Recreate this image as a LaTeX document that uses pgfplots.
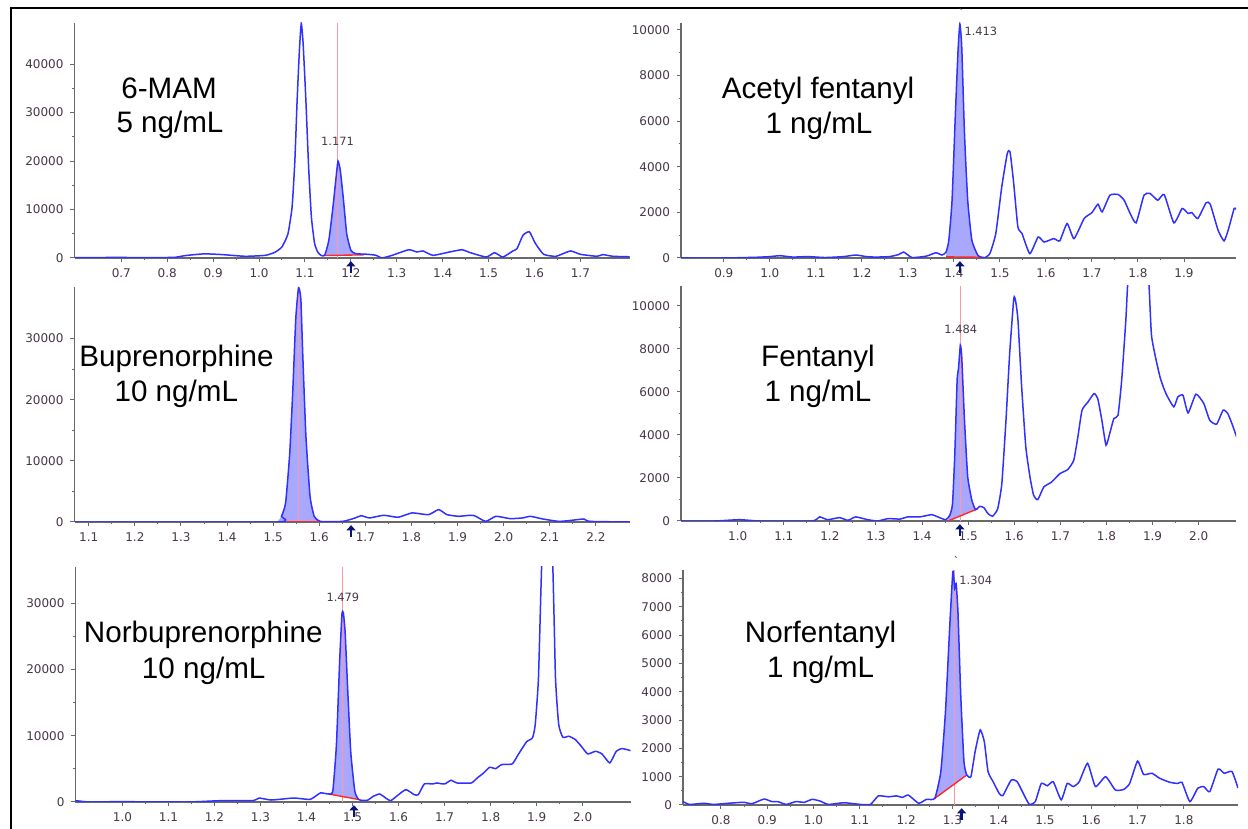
\documentclass[border=0pt]{standalone}
\usepackage{pgfplots}
\pgfplotsset{compat=1.18}
\usepackage{fontspec}
\setmainfont{Liberation Sans}
\newfontfamily\tickfont{DejaVu Sans}
\usetikzlibrary{arrows.meta}

\definecolor{tracecol}{RGB}{48,48,255}
\definecolor{fillcol}{RGB}{168,168,255}
\definecolor{axisgray}{RGB}{105,105,105}
\definecolor{ticktext}{RGB}{70,55,70}
\definecolor{rtcol}{RGB}{255,150,165}
\definecolor{intbase}{RGB}{255,40,40}
\definecolor{arrowcol}{RGB}{10,20,120}

\pgfplotsset{
  chrom/.style={
    scale only axis, width=277.5pt, height=117.5pt,
    anchor=south west,
    axis x line=bottom, axis y line=left,
    axis line style={-, draw=axisgray, line width=0.7pt},
    tick align=outside,
    major tick length=2pt, minor tick length=1.2pt,
    tick style={draw=axisgray, line width=0.5pt},
    minor x tick num=1, minor y tick num=1,
    ymin=0,
    tick label style={font=\tickfont\fontsize{6}{7}\selectfont, text=ticktext},
    x tick label style={/pgf/number format/.cd, fixed, fixed zerofill, precision=1, assume math mode=true},
    y tick label style={/pgf/number format/.cd, fixed, set thousands separator={}, assume math mode=true},
    scaled x ticks=false, scaled y ticks=false,
    clip mode=individual,
  },
  trace/.style={draw=tracecol, line width=0.75pt, no markers, smooth, tension=0.3},
  peakfill/.style={draw=none, fill=fillcol},
  rt/.style={draw=rtcol, line width=0.5pt, no markers},
  intline/.style={draw=intbase, line width=0.7pt, no markers},
}
\newcommand{\rtarrow}[1]{\draw[arrowcol, line width=1.2pt, -{Triangle[width=4.5pt,length=2.6pt]}] ([yshift=-7.5pt]axis cs:#1,0) -- ([yshift=-1.6pt]axis cs:#1,0);}
\newcommand{\rtlabel}{\tickfont\fontsize{5.7}{7}\selectfont\color{ticktext}}
\newcommand{\namefont}{\fontsize{14.8}{17}\selectfont}

\begin{document}
\begin{tikzpicture}
\useasboundingbox (0pt,0pt) rectangle (624pt,414.5pt);
\draw[line width=1pt] (5.5pt,0pt) -- (5.5pt,410.25pt) -- (624pt,410.25pt);

% 6-MAM
\begin{axis}[chrom, at={(37.25pt,285.5pt)}, xmin=0.598, xmax=1.807, ymax=48500,
  xtick={0.7,0.8,0.9,1.0,1.1,1.2,1.3,1.4,1.5,1.6,1.7}, ytick={0,10000,20000,30000,40000}]
\addplot[peakfill] coordinates {(1.139,550)(1.143,550)(1.152,3650)(1.161,10500)(1.168,16800)(1.172,20000)(1.177,18100)(1.184,11900)(1.191,5000)(1.2,1600)(1.21,900)(1.228,700)} -- cycle;
\addplot[rt] coordinates {(1.171,0)(1.171,48500)};
\addplot[intline] coordinates {(1.139,500)(1.228,650)};
\addplot[trace] coordinates {
(0.598,100)(0.65,80)(0.70,150)(0.72,80)(0.80,100)(0.818,150)(0.84,500)(0.88,850)(0.92,700)(0.97,350)(1.014,550)(1.035,1200)(1.05,2300)(1.063,5000)(1.072,10500)(1.078,20000)(1.083,32600)(1.088,43000)(1.092,48400)(1.096,44300)(1.102,32600)(1.108,18800)(1.114,8500)(1.121,3000)(1.128,1200)(1.135,550)(1.143,550)(1.152,3650)(1.161,10500)(1.168,16800)(1.172,20000)(1.177,18100)(1.184,11900)(1.191,5000)(1.2,1600)(1.21,900)(1.237,760)(1.255,550)(1.268,0)(1.29,550)(1.326,1700)(1.344,1240)(1.357,1450)(1.379,550)(1.415,1240)(1.442,1700)(1.46,1100)(1.495,200)(1.513,1100)(1.531,200)(1.553,1450)(1.562,1930)(1.575,4700)(1.589,5400)(1.602,3000)(1.62,760)(1.647,350)(1.678,1450)(1.7,760)(1.736,350)(1.749,700)(1.771,350)(1.807,250)};
\node[font=\rtlabel] at (axis cs:1.171,24000) {1.171};
\rtarrow{1.2}
\end{axis}
\node[anchor=base, font=\namefont] at (84.5pt,365pt) {6-MAM};
\node[anchor=base, font=\namefont] at (85pt,348pt) {5 ng/mL};

% Acetyl fentanyl
\begin{axis}[chrom, at={(340.5pt,285.5pt)}, xmin=0.807, xmax=2.013, ymax=10300,
  xtick={0.9,1.0,1.1,1.2,1.3,1.4,1.5,1.6,1.7,1.8,1.9}, ytick={0,2000,4000,6000,8000,10000}]
\addplot[peakfill] coordinates {(1.383,60)(1.383,260)(1.389,780)(1.396,2530)(1.403,6200)(1.409,9100)(1.413,10250)(1.417,9270)(1.423,5460)(1.43,2530)(1.439,780)(1.452,120)(1.465,40)} -- cycle;
\addplot[intline] coordinates {(1.383,50)(1.465,30)};
\addplot[trace] coordinates {
(0.807,0)(0.9,0)(0.97,30)(1.0,60)(1.022,100)(1.05,40)(1.083,60)(1.12,20)(1.16,60)(1.187,130)(1.21,60)(1.23,40)(1.26,60)(1.28,150)(1.291,260)(1.309,20)(1.34,80)(1.361,230)(1.374,130)(1.383,260)(1.389,780)(1.396,2530)(1.403,6200)(1.409,9100)(1.413,10250)(1.417,9270)(1.423,5460)(1.43,2530)(1.439,780)(1.452,120)(1.465,0)(1.478,190)(1.491,1070)(1.504,3120)(1.516,4580)(1.522,4650)(1.53,3260)(1.539,1360)(1.548,1070)(1.565,190)(1.583,920)(1.596,700)(1.617,850)(1.63,750)(1.646,1510)(1.661,850)(1.683,1730)(1.7,1990)(1.713,2360)(1.722,2020)(1.739,2750)(1.757,2780)(1.77,2530)(1.783,1950)(1.796,1540)(1.813,2750)(1.826,2830)(1.843,2530)(1.857,2780)(1.878,1540)(1.896,2170)(1.909,1950)(1.917,1990)(1.93,1730)(1.948,2420)(1.957,2360)(1.974,1220)(1.987,750)(1.996,1220)(2.009,2170)(2.013,2130)};
\node[font=\rtlabel, anchor=west, inner sep=1pt] at (axis cs:1.418,9930) {1.413};
\node[font=\rtlabel, inner sep=0pt] at (axis cs:1.416,10750) {`};
\rtarrow{1.413}
\end{axis}
\node[anchor=base, font=\namefont] at (409pt,365pt) {Acetyl fentanyl};
\node[anchor=base, font=\namefont] at (409.5pt,347.85pt) {1 ng/mL};

% Buprenorphine
\begin{axis}[chrom, at={(37.25pt,153.5pt)}, xmin=1.069, xmax=2.273, ymax=38420,
  xtick={1.1,1.2,1.3,1.4,1.5,1.6,1.7,1.8,1.9,2.0,2.1,2.2}, ytick={0,10000,20000,30000}]
\addplot[peakfill] coordinates {(1.509,0)(1.518,930)(1.527,3120)(1.536,11330)(1.543,22280)(1.549,33230)(1.555,38300)(1.56,36500)(1.564,27750)(1.571,14070)(1.58,4210)(1.589,930)(1.602,100)(1.602,0)} -- cycle;
\addplot[rt] coordinates {(1.556,0)(1.556,38420)};
\addplot[intline] coordinates {(1.509,0)(1.602,0)};
\addplot[trace] coordinates {
(1.069,0)(1.509,0)(1.518,930)(1.527,3120)(1.536,11330)(1.543,22280)(1.549,33230)(1.555,38300)(1.56,36500)(1.564,27750)(1.571,14070)(1.58,4210)(1.589,930)(1.602,100)(1.651,100)(1.678,660)(1.691,1040)(1.709,660)(1.74,1100)(1.771,770)(1.801,1480)(1.837,1200)(1.859,2030)(1.877,1200)(1.903,930)(1.934,1100)(1.961,100)(1.983,930)(2.014,550)(2.041,660)(2.058,930)(2.085,490)(2.12,100)(2.147,270)(2.174,490)(2.187,100)(2.273,0)};
\rtarrow{1.669}
\end{axis}
\node[anchor=base, font=\namefont] at (88.25pt,231.15pt) {Buprenorphine};
\node[anchor=base, font=\namefont] at (88.15pt,213.65pt) {10 ng/mL};

% Fentanyl
\begin{axis}[chrom, at={(340.5pt,154pt)}, xmin=0.877, xmax=2.081, ymax=10916,
  xtick={1.0,1.1,1.2,1.3,1.4,1.5,1.6,1.7,1.8,1.9,2.0}, ytick={0,2000,4000,6000,8000,10000}]
\addplot[peakfill] coordinates {(1.456,0)(1.46,260)(1.466,800)(1.471,3130)(1.476,6540)(1.479,7080)(1.483,8170)(1.486,7630)(1.492,4680)(1.499,2050)(1.508,960)(1.516,530)(1.521,570)} -- cycle;
\addplot[rt] coordinates {(1.484,0)(1.484,10916)};
\addplot[intline] coordinates {(1.456,0)(1.521,570)};
\addplot[trace] coordinates {
(0.877,0)(0.95,0)(1.004,60)(1.048,0)(1.161,0)(1.178,190)(1.195,60)(1.221,155)(1.239,30)(1.256,190)(1.282,60)(1.304,0)(1.326,110)(1.352,90)(1.369,190)(1.395,190)(1.421,295)(1.434,190)(1.451,60)(1.46,260)(1.466,800)(1.471,3130)(1.476,6540)(1.479,7080)(1.483,8170)(1.486,7630)(1.492,4680)(1.499,2050)(1.508,960)(1.516,530)(1.525,680)(1.534,620)(1.543,340)(1.553,220)(1.564,570)(1.573,1740)(1.582,4680)(1.59,7780)(1.599,10340)(1.603,10200)(1.608,9330)(1.616,6230)(1.625,3440)(1.634,2050)(1.642,1190)(1.651,990)(1.664,1580)(1.681,1810)(1.699,2200)(1.716,2390)(1.729,2820)(1.738,3910)(1.747,5150)(1.76,5530)(1.773,5920)(1.781,5690)(1.79,4680)(1.799,3520)(1.807,4060)(1.816,4760)(1.825,4910)(1.833,6540)(1.842,9330)(1.848,11660)(1.87,16000)(1.891,11400)(1.898,8560)(1.916,6700)(1.929,5920)(1.946,5300)(1.955,5770)(1.966,5840)(1.977,5020)(1.994,5890)(2.011,5460)(2.024,4680)(2.039,4500)(2.053,5150)(2.063,5000)(2.072,4530)(2.085,3750)};
\node[font=\rtlabel] at (axis cs:1.484,8900) {1.484};
\rtarrow{1.482}
\end{axis}
\node[anchor=base, font=\namefont] at (409pt,231.15pt) {Fentanyl};
\node[anchor=base, font=\namefont] at (409pt,213.65pt) {1 ng/mL};

% Norbuprenorphine
\begin{axis}[chrom, at={(37.75pt,13.5pt)}, xmin=0.898, xmax=2.104, ymax=35490,
  xtick={1.0,1.1,1.2,1.3,1.4,1.5,1.6,1.7,1.8,1.9,2.0}, ytick={0,10000,20000,30000}]
\addplot[peakfill] coordinates {(1.448,1210)(1.457,1600)(1.465,8670)(1.472,21280)(1.477,28340)(1.48,28590)(1.484,25560)(1.489,17750)(1.496,7660)(1.505,1610)(1.512,400)} -- cycle;
\addplot[rt] coordinates {(1.479,0)(1.479,35490)};
\addplot[intline] coordinates {(1.448,1210)(1.512,400)};
\addplot[trace] coordinates {
(0.898,200)(0.929,0)(0.991,50)(1.142,0)(1.213,200)(1.284,200)(1.297,600)(1.324,300)(1.372,600)(1.408,400)(1.43,1360)(1.448,1210)(1.457,1600)(1.465,8670)(1.472,21280)(1.477,28340)(1.48,28590)(1.484,25560)(1.489,17750)(1.496,7660)(1.505,1610)(1.514,350)(1.532,250)(1.545,860)(1.559,1210)(1.572,600)(1.583,200)(1.598,1000)(1.616,1870)(1.634,1110)(1.643,1110)(1.656,2720)(1.674,2720)(1.683,2870)(1.7,2720)(1.714,3280)(1.727,2870)(1.758,2870)(1.771,3630)(1.785,4390)(1.798,5240)(1.811,5040)(1.824,5650)(1.847,5750)(1.86,7160)(1.878,9080)(1.891,9680)(1.897,11700)(1.904,18760)(1.911,35900)(1.922,55000)(1.935,35900)(1.941,18760)(1.948,11700)(1.957,9780)(1.97,9930)(1.984,9430)(1.997,8420)(2.011,7260)(2.028,7660)(2.042,7260)(2.059,5900)(2.073,7660)(2.086,8070)(2.104,7760)};
\node[font=\rtlabel] at (axis cs:1.479,30900) {1.479};
\rtarrow{1.503}
\end{axis}
\node[anchor=base, font=\namefont] at (101.65pt,93.15pt) {Norbuprenorphine};
\node[anchor=base, font=\namefont] at (101.85pt,75.35pt) {10 ng/mL};

% Norfentanyl
\begin{axis}[chrom, at={(341.5pt,12pt)}, xmin=0.718, xmax=1.917, ymax=8295,
  xtick={0.8,0.9,1.0,1.1,1.2,1.3,1.4,1.5,1.6,1.7,1.8}, ytick={0,1000,2000,3000,4000,5000,6000,7000,8000}]
\addplot[peakfill] coordinates {(1.262,235)(1.275,1180)(1.285,3290)(1.294,6230)(1.301,8230)(1.305,7640)(1.308,7820)(1.312,6820)(1.318,3880)(1.325,1530)(1.331,1060)} -- cycle;
\addplot[rt] coordinates {(1.304,0)(1.304,8295)};
\addplot[intline] coordinates {(1.262,235)(1.331,1060)};
\addplot[trace] coordinates {
(0.718,120)(0.732,20)(0.763,60)(0.784,20)(0.815,60)(0.849,95)(0.867,45)(0.893,210)(0.91,120)(0.923,120)(0.941,20)(0.962,120)(0.98,95)(0.997,200)(1.014,140)(1.032,20)(1.066,80)(1.101,20)(1.123,20)(1.14,320)(1.162,290)(1.179,320)(1.192,270)(1.205,350)(1.227,60)(1.244,200)(1.262,235)(1.275,1180)(1.285,3290)(1.294,6230)(1.301,8230)(1.305,7640)(1.308,7820)(1.312,6820)(1.318,3880)(1.325,1530)(1.331,1060)(1.34,1000)(1.349,1880)(1.36,2650)(1.369,2230)(1.377,1180)(1.388,820)(1.401,410)(1.409,330)(1.427,880)(1.44,820)(1.453,410)(1.466,25)(1.479,120)(1.492,760)(1.505,680)(1.518,820)(1.535,180)(1.548,760)(1.561,650)(1.574,820)(1.592,1470)(1.609,650)(1.631,1000)(1.652,530)(1.67,550)(1.683,760)(1.7,1550)(1.713,1080)(1.731,1120)(1.748,940)(1.77,800)(1.787,760)(1.796,800)(1.813,120)(1.83,590)(1.843,650)(1.856,470)(1.874,1270)(1.887,1120)(1.904,1180)(1.917,600)};
\node[font=\rtlabel, anchor=west, inner sep=1pt] at (axis cs:1.310,7940) {1.304};
\node[font=\rtlabel, inner sep=0pt] at (axis cs:1.309,8600) {`};
\rtarrow{1.32}
\end{axis}
\node[anchor=base, font=\namefont] at (410.3pt,93.35pt) {Norfentanyl};
\node[anchor=base, font=\namefont] at (410.3pt,75.65pt) {1 ng/mL};
\end{tikzpicture}
\end{document}
